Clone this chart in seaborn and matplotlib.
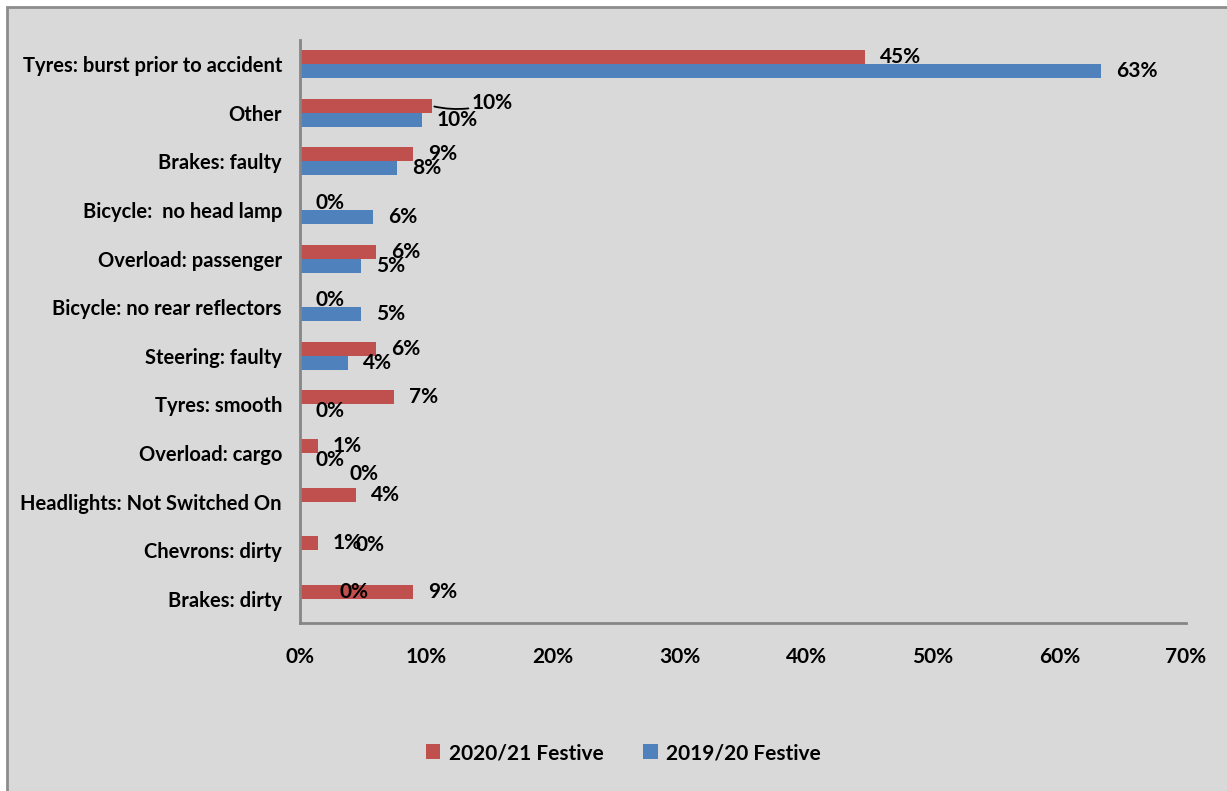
import pandas as pd
import numpy as np
import matplotlib.pyplot as plt
import seaborn as sns
from matplotlib.patches import Rectangle
from matplotlib.ticker import FuncFormatter, FixedLocator

# ---- data ----
causes = [
    "Tyres: burst prior to accident",
    "Other",
    "Brakes: faulty",
    "Bicycle:  no head lamp",
    "Overload: passenger",
    "Bicycle: no rear reflectors",
    "Steering: faulty",
    "Tyres: smooth",
    "Overload: cargo",
    "Headlights: Not Switched On",
    "Chevrons: dirty",
    "Brakes: dirty",
]
share_2021 = [44.6, 10.4, 8.9, 0.0, 6.0, 0.0, 6.0, 7.4, 1.4, 4.4, 1.4, 8.9]
share_1920 = [63.3, 9.6, 7.7, 5.8, 4.8, 4.8, 3.8, 0.0, 0.0, 0.0, 0.0, 0.0]
series = ["2020/21 Festive", "2019/20 Festive"]
x_ticks = [0, 10, 20, 30, 40, 50, 60, 70]

df = pd.DataFrame({
    "cause": causes * 2,
    "share": share_2021 + share_1920,
    "period": [series[0]] * len(causes) + [series[1]] * len(causes),
})

sns.set_theme(style="white")
plt.rcParams["font.family"] = ["Lato", "DejaVu Sans"]
plt.rcParams["font.weight"] = "bold"
plt.rcParams["text.color"] = "black"

BG = "#d9d9d9"
AXIS = "#868686"
colors = {series[0]: "#c0504d", series[1]: "#4f81bd"}

fig = plt.figure(figsize=(12.27, 7.91), dpi=100, facecolor="white")
# grey chart area with a border on the left and top
fig.patches.append(Rectangle((7 / 1227, -0.05), 1.1, 1.05 - 7 / 791,
                             transform=fig.transFigure, facecolor=BG,
                             edgecolor="#8c8c8c", linewidth=2, zorder=-5))

ax = fig.add_axes([300 / 1227, 1 - 623 / 791, 886 / 1227, 583 / 791])
ax.patch.set_alpha(0)

sns.barplot(data=df, y="cause", x="share", hue="period", orient="h",
            hue_order=series, palette=colors, width=0.576, saturation=1,
            linewidth=0, legend=True, ax=ax)

ax.set_xlim(0, 70)
ax.set_ylim(len(causes) - 0.5, -0.5)
ax.set_xticks(x_ticks)
ax.xaxis.set_major_formatter(FuncFormatter(lambda v, p: f"{v:.0f}%"))
ax.set_xlabel("")
ax.set_ylabel("")

for side in ["top", "right"]:
    ax.spines[side].set_visible(False)
for side in ["left", "bottom"]:
    ax.spines[side].set_color(AXIS)
    ax.spines[side].set_linewidth(2)

ax.tick_params(axis="x", direction="out", length=6, width=2, color=AXIS,
               pad=11, labelsize=15, labelcolor="black")
ax.tick_params(axis="y", which="major", length=0, pad=13, labelsize=14.5,
               labelcolor="black")
ax.yaxis.set_minor_locator(FixedLocator(np.arange(-0.5, len(causes), 1)))
ax.tick_params(axis="y", which="minor", direction="out", length=5, width=2,
               color=AXIS)
for lbl in ax.get_xticklabels() + ax.get_yticklabels():
    lbl.set_fontweight("bold")

# data labels; a few were dragged around in the original
nudges = {(0, 1): (25, 3), (1, 9): (34, 35), (1, 10): (40, 12), (1, 11): (25, 14)}
for k, cont in enumerate(ax.containers):
    for i, bar in enumerate(cont):
        w = bar.get_width()
        yc = bar.get_y() + bar.get_height() / 2
        dx, dy = nudges.get((k, i), (0, 0))
        kw = {}
        if (k, i) == (0, 1):
            kw["arrowprops"] = dict(arrowstyle="-", color="black", lw=1.3,
                                    connectionstyle="arc3,rad=-0.15",
                                    shrinkA=0, shrinkB=2)
        ax.annotate(f"{w:.0f}%", xy=(w, yc), xytext=(15 + dx, dy),
                    textcoords="offset pixels", ha="left", va="center",
                    fontsize=15, fontweight="bold", color="black",
                    annotation_clip=False, **kw)

handles, labels = ax.get_legend_handles_labels()
ax.get_legend().remove()
for h in handles:
    h.set_edgecolor("none")
fig.legend(handles, labels, loc="center", bbox_to_anchor=(0.508, 0.048),
           ncol=2, frameon=False, handlelength=0.7,
           handleheight=0.7, handletextpad=0.4, columnspacing=1.9,
           prop={"weight": "bold", "size": 15})

fig.savefig("out.png", dpi=100, facecolor=fig.get_facecolor())
